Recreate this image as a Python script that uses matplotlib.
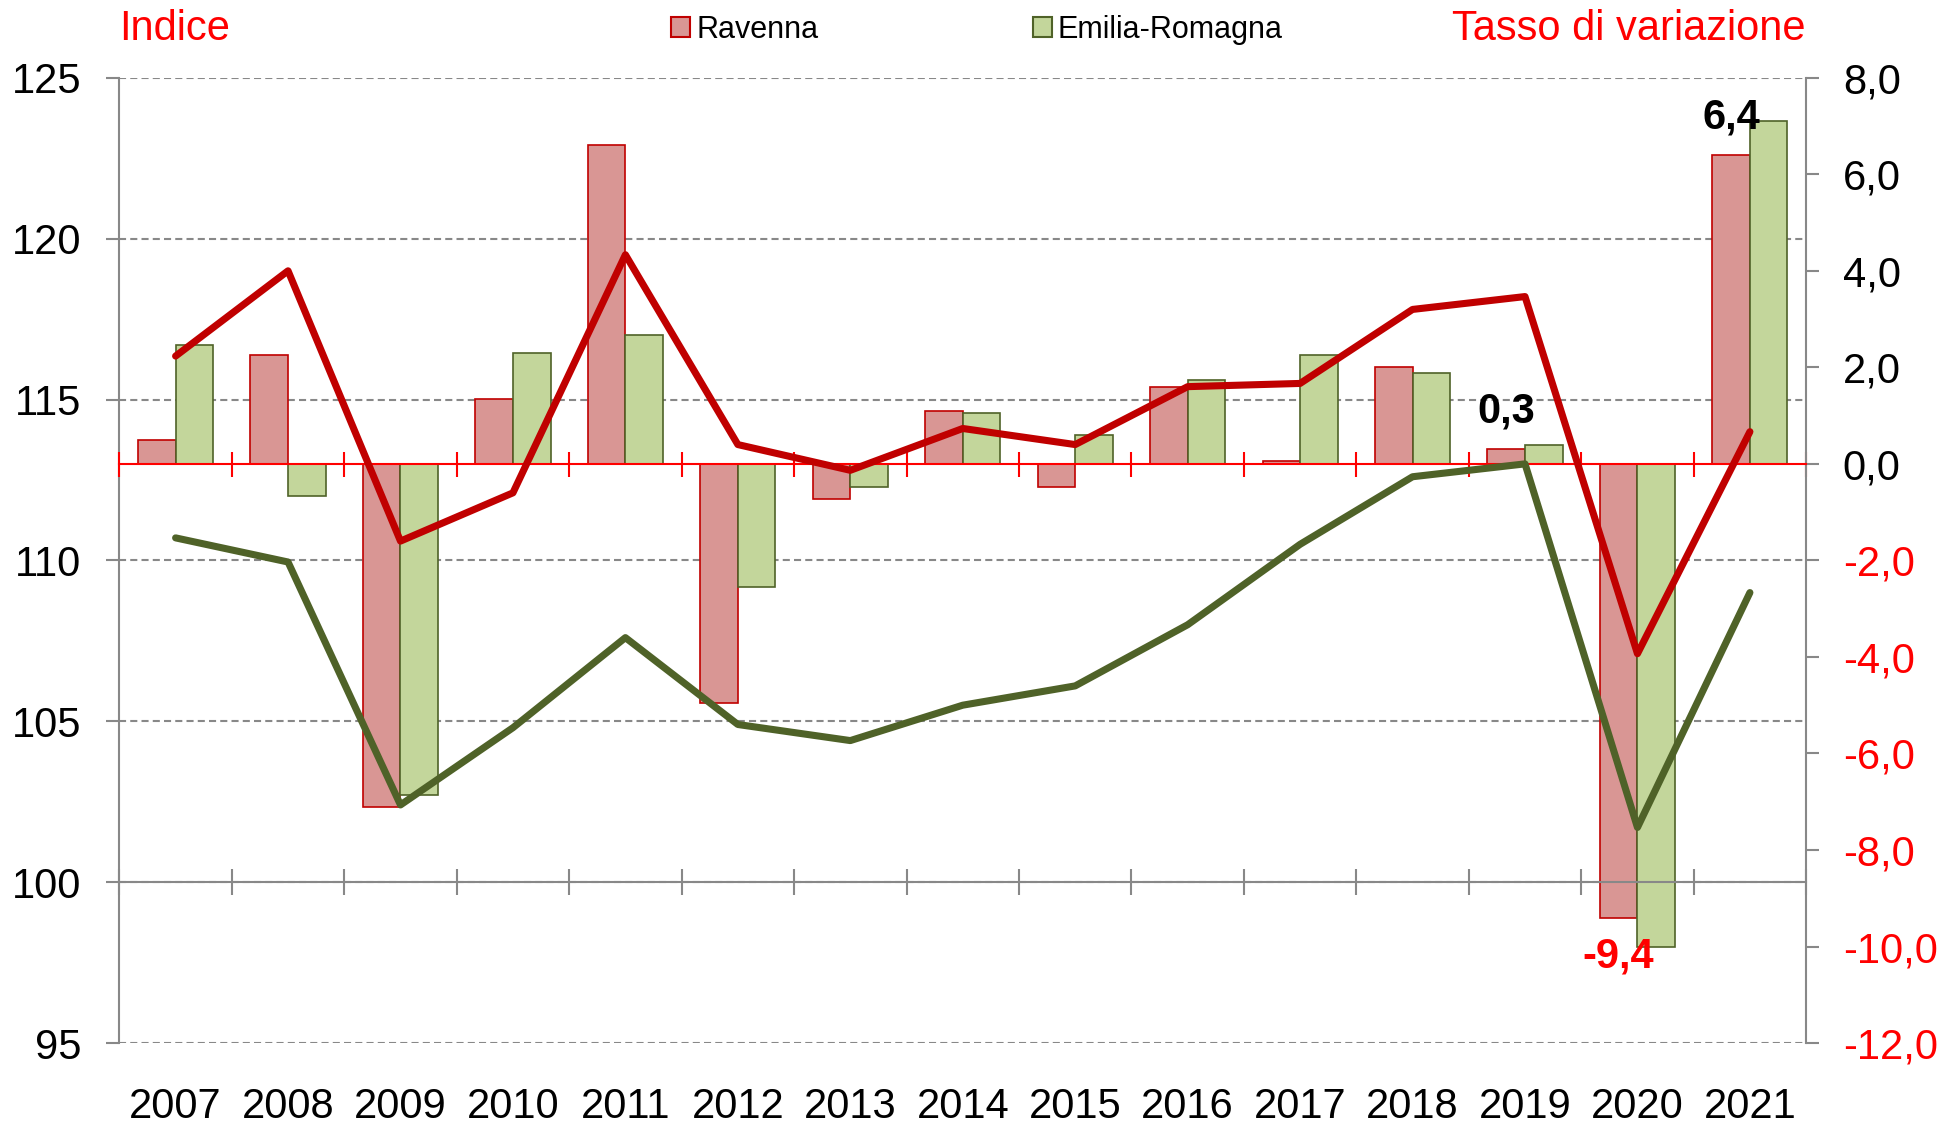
import matplotlib
matplotlib.use('Agg')
import matplotlib.pyplot as plt
from matplotlib.patches import Patch

plt.rcParams['font.family'] = ['Liberation Sans', 'DejaVu Sans']

# dati
anni = ['2007', '2008', '2009', '2010', '2011', '2012', '2013', '2014',
        '2015', '2016', '2017', '2018', '2019', '2020', '2021']
# tassi di variazione (asse destro)
ravenna_tasso = [0.5, 2.25, -7.1, 1.35, 6.6, -4.95, -0.72, 1.1,
                 -0.47, 1.6, 0.05, 2.0, 0.3, -9.4, 6.4]
emilia_tasso = [2.46, -0.67, -6.87, 2.3, 2.66, -2.56, -0.47, 1.06,
                0.6, 1.73, 2.25, 1.89, 0.39, -10.0, 7.1]
# indice (asse sinistro)
ravenna_indice = [116.35, 119.0, 110.6, 112.1, 119.5, 113.6, 112.8, 114.1,
                  113.6, 115.4, 115.5, 117.8, 118.2, 107.1, 114.0]
emilia_indice = [110.7, 109.95, 102.4, 104.8, 107.6, 104.9, 104.4, 105.5,
                 106.1, 108.0, 110.5, 112.6, 113.0, 101.7, 109.0]
# etichette evidenziate: (indice anno, testo, colore)
etichette = [(12, '0,3', 'black'), (14, '6,4', 'black'), (13, '-9,4', '#FF0000')]

GRIGIO = '#888888'
ROSSO = '#FF0000'
x = list(range(len(anni)))
bordi = [i - 0.5 for i in range(len(anni) + 1)]
w = 0.334

fig = plt.figure(figsize=(19.6, 11.27), dpi=100)
rect = [0.0609, 0.0745, 0.8606, 0.8565]

# asse di base: indice, griglia, etichette anni
ax = fig.add_axes(rect)
ax.set_xlim(-0.5, len(anni) - 0.5)
ax.set_ylim(95, 125)
ax.set_yticks(range(95, 126, 5))
ax.yaxis.grid(True, color=GRIGIO, linestyle=(0, (3.4, 2)), linewidth=1.5)
ax.set_xticks(x)
ax.set_xticklabels(anni)
ax.tick_params(axis='x', length=0, pad=32, labelsize=30)
ax.tick_params(axis='y', length=9.4, width=1.5, color=GRIGIO, pad=18, labelsize=30)
for s in ['top', 'right', 'bottom']:
    ax.spines[s].set_visible(False)
ax.spines['left'].set_color(GRIGIO)
ax.spines['left'].set_linewidth(1.5)

# barre: tassi di variazione
ax2 = fig.add_axes(rect, facecolor='none')
ax2.set_xlim(-0.5, len(anni) - 0.5)
ax2.set_ylim(-12, 8)
ax2.bar([i - w / 2 for i in x], ravenna_tasso, width=w, color='#D99694',
        edgecolor='#C00000', linewidth=1.2, label='Ravenna')
ax2.bar([i + w / 2 for i in x], emilia_tasso, width=w, color='#C3D69B',
        edgecolor='#4F6228', linewidth=1.2, label='Emilia-Romagna')
ax2.yaxis.tick_right()
yt = list(range(-12, 9, 2))
ax2.set_yticks(yt)
ax2.set_yticklabels([f'{v:.1f}'.replace('.', ',') for v in yt])
for lab, v in zip(ax2.get_yticklabels(), yt):
    lab.set_color(ROSSO if v < 0 else 'black')
ax2.tick_params(axis='y', length=9.4, width=1.5, color=GRIGIO, pad=17, labelsize=30)
ax2.set_xticks(bordi)
ax2.tick_params(axis='x', direction='inout', length=18, width=1.5, color=ROSSO,
                labelbottom=False)
ax2.spines['bottom'].set_position(('data', 0))
ax2.spines['bottom'].set_color(ROSSO)
ax2.spines['bottom'].set_linewidth(1.5)
ax2.spines['right'].set_color(GRIGIO)
ax2.spines['right'].set_linewidth(1.5)
for s in ['top', 'left']:
    ax2.spines[s].set_visible(False)

for i, testo, col in etichette:
    v = ravenna_tasso[i]
    dy = 27 if v >= 0 else -28
    ax2.annotate(testo, (i - w / 2, v), xytext=(0, dy), textcoords='offset points',
                 ha='center', va='center', fontsize=30, fontweight='bold', color=col)

# linee: indice
ax3 = fig.add_axes(rect, facecolor='none')
ax3.set_xlim(-0.5, len(anni) - 0.5)
ax3.set_ylim(95, 125)
ax3.plot(x, emilia_indice, color='#4F6228', linewidth=5.1,
         solid_capstyle='round', solid_joinstyle='round')
ax3.plot(x, ravenna_indice, color='#C00000', linewidth=5.1,
         solid_capstyle='round', solid_joinstyle='round')
ax3.set_xticks(bordi)
ax3.tick_params(axis='x', direction='inout', length=18.7, width=1.5, color=GRIGIO,
                labelbottom=False)
ax3.set_yticks([])
ax3.spines['bottom'].set_position(('data', 100))
ax3.spines['bottom'].set_color(GRIGIO)
ax3.spines['bottom'].set_linewidth(1.5)
for s in ['top', 'left', 'right']:
    ax3.spines[s].set_visible(False)

# titoli assi e legenda
fig.text(119 / 1960, 1 - 29 / 1127, 'Indice', color=ROSSO, fontsize=30,
         ha='left', va='center')
fig.text(1806 / 1960, 1 - 29 / 1127, 'Tasso di variazione', color=ROSSO, fontsize=30,
         ha='right', va='center')
maniglie = [Patch(facecolor='#D99694', edgecolor='#C00000', linewidth=1.5, label='Ravenna'),
            Patch(facecolor='#C3D69B', edgecolor='#4F6228', linewidth=1.5, label='Emilia-Romagna')]
fig.legend(handles=maniglie, loc='center', bbox_to_anchor=(0.4985, 1 - 30 / 1127),
           ncol=2, frameon=False, fontsize=22, handlelength=0.62, handleheight=0.62,
           handletextpad=0.2, columnspacing=7.0)

fig.savefig('out.png', dpi=100)
